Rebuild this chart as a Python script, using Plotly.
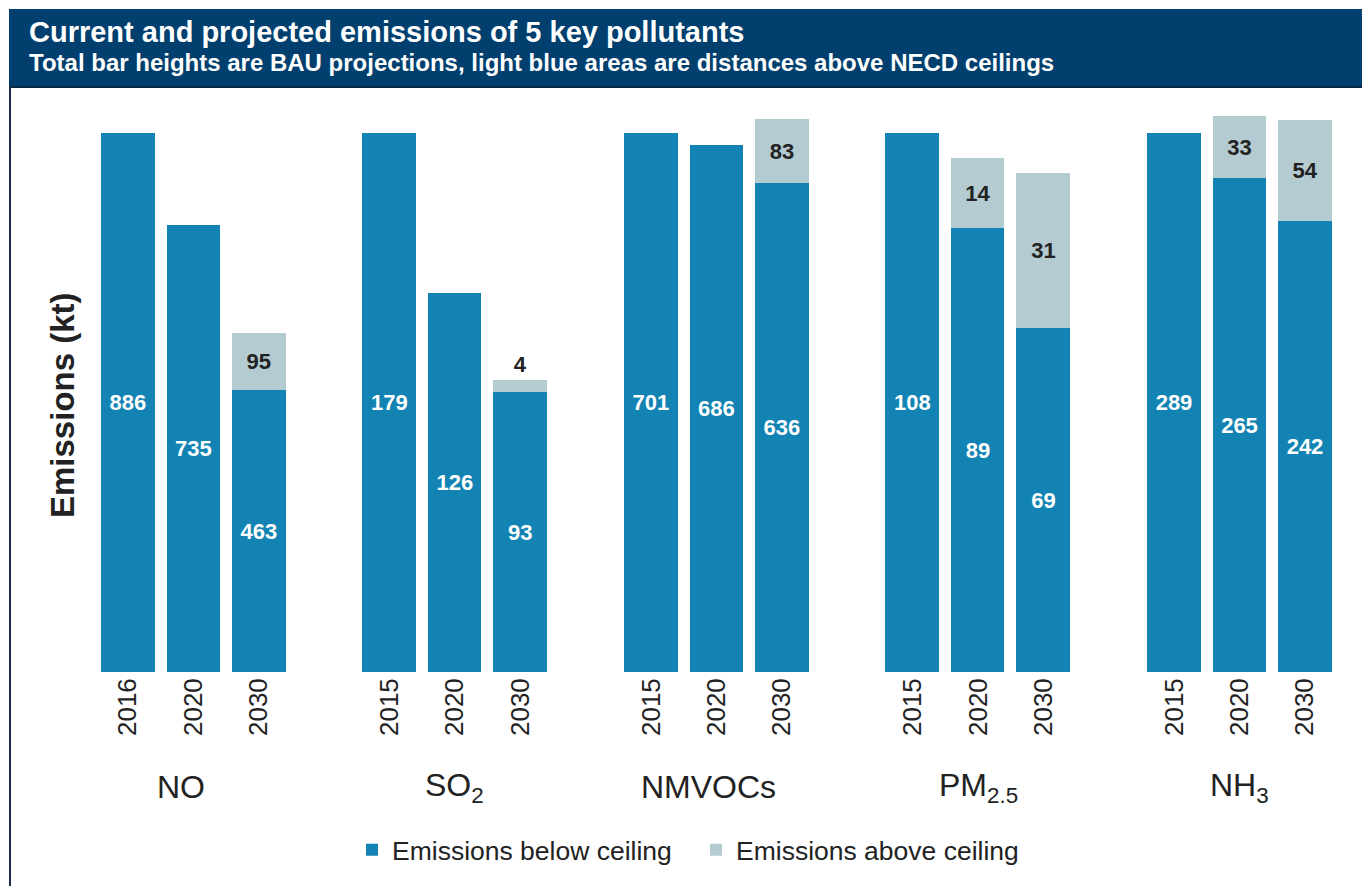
import plotly.graph_objects as go

# Emissions in kt per pollutant; the first year of each pollutant is the reference year
pollutants = ["NO", "SO<sub>2</sub>", "NMVOCs", "PM<sub>2.5</sub>", "NH<sub>3</sub>"]
years = [
    ["2016", "2020", "2030"],
    ["2015", "2020", "2030"],
    ["2015", "2020", "2030"],
    ["2015", "2020", "2030"],
    ["2015", "2020", "2030"],
]
below_ceiling = [
    [886, 735, 463],
    [179, 126, 93],
    [701, 686, 636],
    [108, 89, 69],
    [289, 265, 242],
]
above_ceiling = [
    [None, None, 95],
    [None, None, 4],
    [None, None, 83],
    [None, 14, 31],
    [None, 33, 54],
]

W, H = 1362, 886
M_T, M_B = 100, 214
PLOT_H = H - M_T - M_B
DARK = "#1283b2"
LIGHT = "#b4cbd2"
NAVY = "#003f6e"
INK = "#222222"
FONT = "Liberation Sans, Arial, sans-serif"

# vertical headroom so that each pollutant's reference year fills the same height
HEADROOM = 572 / 539

# horizontal layout of the five panels (pixels)
SLOT = 65.39
FIRST_CENTER = 128
GROUP_STEP = 4 * SLOT
LABEL_SHIFT = [-12, 0, -8, 0, 0]


def px_x(px):
    return px / W


def px_y(px):
    return (H - M_B - px) / PLOT_H


fig = go.Figure()
layout_axes = {}

for g, name in enumerate(pollutants):
    idx = "" if g == 0 else str(g + 1)
    xa, ya = "x" + idx, "y" + idx
    left = FIRST_CENTER + g * GROUP_STEP - 0.6 * SLOT
    right = left + 3.2 * SLOT
    pos = [0, 1, 2]

    fig.add_trace(go.Bar(
        x=pos, y=below_ceiling[g], width=0.82,
        name="Emissions below ceiling", legendgroup="below", showlegend=(g == 0),
        marker=dict(color=DARK, line=dict(width=0)),
        text=[str(v) for v in below_ceiling[g]],
        textposition="inside", insidetextanchor="middle", textangle=0,
        constraintext="none",
        textfont=dict(family=FONT, size=22, color="white", weight="bold"),
        xaxis=xa, yaxis=ya, hoverinfo="skip",
    ))

    # only the years that exceed the ceiling get a light segment
    ab_x = [p for p, v in zip(pos, above_ceiling[g]) if v is not None]
    ab_y = [v for v in above_ceiling[g] if v is not None]
    fig.add_trace(go.Bar(
        x=ab_x, y=ab_y, width=0.82,
        name="Emissions above ceiling", legendgroup="above", showlegend=(g == 0),
        marker=dict(color=LIGHT, line=dict(width=0)),
        text=[str(v) for v in ab_y],
        textposition=["outside" if v < 10 else "inside" for v in ab_y],
        insidetextanchor="middle", textangle=0,
        constraintext="none", cliponaxis=False,
        textfont=dict(family=FONT, size=22, color=INK, weight="bold"),
        xaxis=xa, yaxis=ya, hoverinfo="skip",
    ))

    layout_axes["xaxis" + idx] = dict(
        domain=[px_x(left), px_x(right)], anchor=ya, range=[-0.6, 2.6],
        tickmode="array", tickvals=pos, ticktext=years[g], tickangle=-90,
        ticks="", showline=False, showgrid=False, zeroline=False,
        tickfont=dict(family=FONT, size=26, color=INK),
    )
    layout_axes["yaxis" + idx] = dict(
        anchor=xa, range=[0, below_ceiling[g][0] * HEADROOM],
        visible=False, showgrid=False, zeroline=False,
    )

    fig.add_annotation(
        x=px_x(FIRST_CENTER + g * GROUP_STEP + SLOT), y=px_y(787),
        xref="paper", yref="paper", text=name, showarrow=False,
        xanchor="center", yanchor="middle", xshift=LABEL_SHIFT[g],
        font=dict(family=FONT, size=32, color=INK),
    )

# heading band
fig.add_shape(type="rect", xref="paper", yref="paper",
              x0=px_x(9), x1=px_x(W + 2), y0=px_y(87), y1=px_y(9),
              fillcolor=NAVY, line=dict(width=0), layer="below")
fig.add_shape(type="line", xref="paper", yref="paper",
              x0=px_x(9), x1=px_x(W + 2), y0=px_y(87), y1=px_y(87),
              line=dict(color="#0b2745", width=2))
# left frame edge
fig.add_shape(type="line", xref="paper", yref="paper",
              x0=px_x(10), x1=px_x(10), y0=px_y(87), y1=px_y(H + 2),
              line=dict(color="#1c2d4f", width=2))

fig.add_annotation(
    x=px_x(27), y=px_y(14), xref="paper", yref="paper", showarrow=False,
    xanchor="left", yanchor="top",
    text="<b>Current and projected emissions of 5 key pollutants</b>",
    font=dict(family=FONT, size=29, color="white"),
)
fig.add_annotation(
    x=px_x(27), y=px_y(47), xref="paper", yref="paper", showarrow=False,
    xanchor="left", yanchor="top",
    text="<b>Total bar heights are BAU projections, light blue areas are distances above NECD ceilings</b>",
    font=dict(family=FONT, size=24, color="white"),
)

# y-axis title
fig.add_annotation(
    x=px_x(62), y=px_y(405), xref="paper", yref="paper", showarrow=False,
    xanchor="center", yanchor="middle", textangle=-90,
    text="<b>Emissions (kt)</b>",
    font=dict(family=FONT, size=33, color=INK),
)

fig.update_layout(
    width=W, height=H,
    margin=dict(l=0, r=0, t=M_T, b=M_B, pad=0),
    paper_bgcolor="white", plot_bgcolor="white",
    barmode="stack", bargap=0,
    showlegend=True,
    legend=dict(
        orientation="h", traceorder="normal",
        x=px_x(696), xanchor="center", y=px_y(850), yanchor="middle",
        font=dict(family=FONT, size=26.5, color=INK),
        itemwidth=30, entrywidth=299, bgcolor="rgba(0,0,0,0)",
    ),
    **layout_axes,
)

fig.write_html("out.html")
